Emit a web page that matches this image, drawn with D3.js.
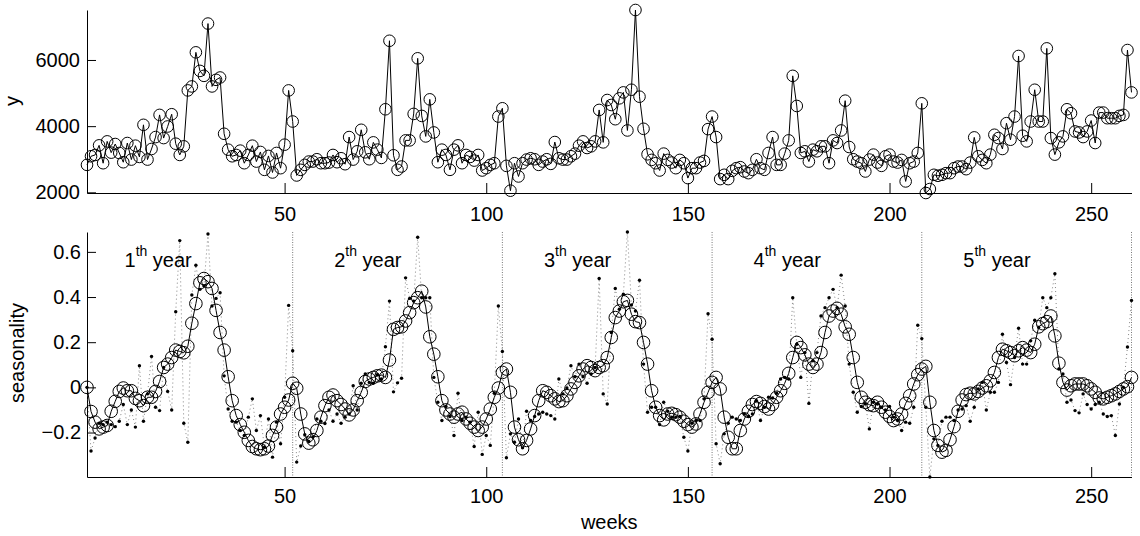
<!DOCTYPE html>
<html>
<head>
<meta charset="utf-8">
<script src="https://cdn.jsdelivr.net/npm/d3@7"></script>
<style>
  body { margin: 0; background: #fff; }
  svg { font-family: "Liberation Sans", Arial, sans-serif; }
  .axis path, .axis line { stroke: #000; }
  .axis text { font-size: 20px; fill: #000; }
</style>
</head>
<body>
<div id="chart"></div>
<script>
// weekly values, 5 years x 52 weeks
const sales = [
  2830, 3090, 3130, 3420, 2880, 3540, 3200, 3460, 3190, 2910,
  3490, 2990, 3410, 3070, 4040, 2990, 3310, 3670, 4340, 3640,
  3990, 4360, 3470, 3130, 3390, 5080, 5200, 6230, 5670, 5520,
  7100, 5200, 5400, 5470, 3770, 3290, 3090, 3130, 3260, 2880,
  3130, 3410, 2930, 3220, 2680, 3100, 2600, 3190, 2730, 3440,
  5080, 4140, 2510, 2680, 2830, 2930, 2930, 3000, 2880, 2880,
  2900, 3130, 2910, 3030, 2850, 3670, 2990, 3240, 3890, 3210,
  3000, 3510, 3290, 3040, 4510, 6580, 3120, 2680, 2780, 3570,
  3570, 4370, 6050, 4310, 3690, 4810, 3810, 2910, 3290, 3130,
  2680, 3290, 3420, 2880, 3130, 3070, 2960, 3130, 2660, 2730,
  2830, 2880, 4290, 4540, 2800, 2050, 2880, 2480, 2880, 2990,
  3030, 3000, 2830, 2930, 3000, 2860, 3520, 3030, 2990, 2990,
  3090, 3170, 3410, 3540, 3340, 3390, 3540, 4490, 3510, 4790,
  4640, 4210, 4840, 5020, 3870, 5100, 7510, 4890, 3920, 3150,
  2980, 2880, 2660, 3170, 2980, 2900, 2730, 2980, 2880, 2430,
  2730, 2730, 2900, 2950, 3910, 4290, 3670, 2400, 2530, 2400,
  2650, 2730, 2760, 2630, 2580, 2680, 3000, 2730, 2680, 3190,
  3670, 2830, 2830, 3170, 3570, 5520, 4610, 3190, 3240, 2930,
  3290, 3240, 3390, 3390, 2880, 3570, 3490, 3870, 4770, 3370,
  3000, 2930, 2880, 2630, 2990, 3140, 2900, 2800, 3090, 3140,
  2930, 2900, 2980, 2330, 2880, 2930, 3190, 4690, 1980, 2100,
  2530, 2500, 2530, 2580, 2580, 2730, 2780, 2780, 2700, 2900,
  3660, 3090, 2980, 2880, 3140, 3740, 3640, 3310, 4090, 3590,
  4290, 6120, 3710, 3540, 4140, 5100, 4140, 4140, 6350, 3640,
  3140, 3510, 3690, 4510, 4390, 3840, 3810, 3670, 3840, 4170,
  3490, 4410, 4410, 4240, 4240, 4240, 4310, 4340, 6300, 5020
];

// smoothed seasonality (circles)
const seasonSmooth = [
  0, -0.107, -0.154, -0.184, -0.176, -0.169, -0.106, -0.062, -0.018, -0.003,
  -0.015, -0.015, -0.049, -0.059, -0.081, -0.044, -0.044, -0.018, 0.026, 0.088,
  0.103, 0.132, 0.165, 0.159, 0.153, 0.182, 0.284, 0.371, 0.463, 0.482,
  0.468, 0.438, 0.341, 0.243, 0.165, 0.047, -0.059, -0.125, -0.165, -0.199,
  -0.235, -0.262, -0.272, -0.276, -0.272, -0.260, -0.213, -0.176, -0.118, -0.088,
  -0.056, 0.018, -0.004, -0.118, -0.206, -0.247, -0.232, -0.191, -0.132, -0.081,
  -0.044, -0.034, -0.059, -0.076, -0.096, -0.122, -0.100, -0.059, -0.022, 0.026,
  0.037, 0.044, 0.051, 0.054, 0.044, 0.121, 0.257, 0.265, 0.268, 0.294,
  0.331, 0.375, 0.397, 0.426, 0.356, 0.224, 0.147, 0.047, -0.059, -0.100,
  -0.118, -0.132, -0.118, -0.110, -0.140, -0.159, -0.176, -0.191, -0.176, -0.140,
  -0.096, -0.044, -0.003, 0.066, 0.081, -0.022, -0.176, -0.232, -0.272, -0.235,
  -0.184, -0.125, -0.059, -0.015, -0.022, -0.037, -0.051, -0.063, -0.059, -0.037,
  -0.007, 0.022, 0.051, 0.081, 0.096, 0.088, 0.074, 0.088, 0.096, 0.132,
  0.221, 0.309, 0.338, 0.379, 0.385, 0.324, 0.291, 0.287, 0.199, 0.103,
  -0.015, -0.088, -0.125, -0.144, -0.118, -0.115, -0.121, -0.132, -0.150, -0.165,
  -0.176, -0.162, -0.118, -0.066, -0.022, 0.022, 0.044, -0.007, -0.132, -0.221,
  -0.272, -0.272, -0.191, -0.140, -0.106, -0.076, -0.063, -0.071, -0.085, -0.096,
  -0.076, -0.044, -0.015, 0.018, 0.062, 0.132, 0.199, 0.176, 0.144, 0.103,
  0.088, 0.103, 0.154, 0.243, 0.316, 0.338, 0.350, 0.324, 0.268, 0.235,
  0.132, 0.022, -0.044, -0.066, -0.077, -0.081, -0.066, -0.088, -0.110, -0.129,
  -0.147, -0.140, -0.118, -0.071, -0.037, 0.015, 0.056, 0.081, 0.093, -0.066,
  -0.191, -0.257, -0.287, -0.279, -0.232, -0.174, -0.106, -0.056, -0.032, -0.026,
  -0.029, -0.018, -0.003, 0.007, 0.029, 0.066, 0.132, 0.169, 0.162, 0.154,
  0.140, 0.162, 0.176, 0.165, 0.154, 0.191, 0.268, 0.282, 0.291, 0.316,
  0.228, 0.107, 0.022, -0.012, 0.007, 0.015, 0.015, 0.015, 0.007, -0.007,
  -0.022, -0.047, -0.051, -0.044, -0.037, -0.029, -0.018, -0.007, 0.003, 0.044
];

// raw seasonality (small dots)
const seasonRaw = [
  0, -0.282, -0.224, -0.159, -0.165, -0.154, -0.165, -0.174, -0.150, -0.076,
  -0.165, -0.100, -0.176, 0.096, -0.150, -0.029, 0.137, -0.088, -0.103, 0.088,
  -0.018, -0.100, 0.335, 0.650, -0.159, -0.243, 0.409, 0.541, 0.434, 0.449,
  0.679, 0.360, 0.394, 0.419, 0.051, -0.096, -0.150, -0.154, -0.191, -0.213,
  -0.132, -0.051, -0.191, -0.125, -0.265, -0.140, -0.309, -0.154, -0.250, -0.044,
  0.363, 0.162, -0.331, -0.260, -0.210, -0.240, -0.220, -0.140, -0.150, -0.160,
  -0.100, -0.150, -0.118, -0.159, -0.132, -0.118, 0.007, -0.100, 0.018, 0.059,
  0.022, 0.018, 0.056, 0.037, 0.180, 0.382, -0.020, 0.020, 0.040, 0.485,
  0.394, 0.382, 0.665, 0.397, 0.397, 0.397, 0.044, -0.066, -0.147, -0.085,
  -0.129, -0.213, -0.026, -0.147, -0.132, -0.154, -0.262, -0.110, -0.297, -0.213,
  -0.257, -0.026, 0.360, 0.159, -0.312, -0.206, -0.243, -0.140, -0.268, -0.106,
  -0.147, -0.129, -0.118, -0.110, -0.118, -0.125, -0.140, 0.037, -0.029, -0.003,
  0.096, 0.047, 0.103, 0.047, 0.018, 0.059, 0.088, 0.482, -0.029, -0.074,
  0.243, 0.438, 0.346, 0.412, 0.688, 0.365, 0.338, 0.474, 0.103, -0.110,
  -0.088, -0.088, -0.165, -0.066, -0.106, -0.132, -0.132, -0.129, -0.221, -0.282,
  -0.159, -0.147, -0.147, -0.051, 0.326, 0.213, -0.250, -0.338, -0.206, -0.159,
  -0.132, -0.140, -0.147, -0.118, -0.129, -0.118, -0.059, -0.147, -0.088, -0.044,
  -0.047, -0.026, 0.037, 0.044, 0.037, 0.397, 0.191, 0.044, 0.154, -0.071,
  0.118, 0.154, 0.316, 0.353, 0.397, 0.434, 0.353, 0.497, 0.360, 0.103,
  -0.022, -0.110, -0.085, -0.074, -0.184, -0.066, -0.074, -0.088, -0.100, -0.085,
  -0.132, -0.147, -0.191, -0.154, -0.159, -0.088, 0.275, 0.216, -0.088, -0.397,
  -0.228, -0.257, -0.150, -0.132, -0.132, -0.147, -0.100, -0.096, -0.081, -0.150,
  -0.088, -0.007, 0.022, -0.100, -0.022, -0.022, 0.022, 0.235, 0.110, 0.012,
  0.132, 0.262, 0.103, 0.103, 0.206, 0.297, 0.265, 0.397, 0.353, 0.397,
  0.503, 0.081, 0.059, -0.066, -0.056, -0.103, -0.113, -0.029, -0.076, -0.096,
  -0.076, -0.066, -0.118, -0.129, -0.125, -0.213, -0.074, 0.000, 0.179, 0.385
];

const weeks = d3.range(1, sales.length + 1);
const yearEnds = [52, 104, 156, 208, 260];
const yearNames = ["1", "2", "3", "4", "5"];
const weekTicks = [50, 100, 150, 200, 250];
const salesTicks = [2000, 4000, 6000];
const seasonTicks = [-0.2, 0, 0.2, 0.4, 0.6];

const W = 1140, H = 536;
const svg = d3.select("#chart").append("svg")
    .attr("width", W)
    .attr("height", H);

svg.append("rect").attr("width", W).attr("height", H).attr("fill", "#fff");

const x = d3.scaleLinear()
    .domain([1, 260])
    .range([87, 1131.5]);

// ---- top panel: weekly data
const yTop = d3.scaleLinear()
    .domain(d3.extent(sales))
    .range([193, 10]);

svg.append("g")
    .attr("class", "axis")
    .attr("transform", "translate(0,193)")
    .call(d3.axisBottom(x).tickValues(weekTicks).tickSizeInner(-10).tickSizeOuter(0).tickPadding(14));

svg.append("g")
    .attr("class", "axis")
    .attr("transform", "translate(87,0)")
    .call(d3.axisLeft(yTop)
        .tickValues(salesTicks)
        .tickFormat(d3.format("d"))
        .tickSizeInner(-9).tickSizeOuter(0).tickPadding(7));

const topLine = d3.line()
    .x((d, i) => x(weeks[i]))
    .y(d => yTop(d));

svg.append("path")
    .datum(sales)
    .attr("d", topLine)
    .attr("fill", "none")
    .attr("stroke", "#000")
    .attr("stroke-width", 1);

svg.append("g")
    .selectAll("circle")
    .data(sales)
    .enter()
    .append("circle")
    .attr("cx", (d, i) => x(weeks[i]))
    .attr("cy", d => yTop(d))
    .attr("r", 5.8)
    .attr("fill", "none")
    .attr("stroke", "#000")
    .attr("stroke-width", 1);

svg.append("text")
    .attr("transform", "translate(19,101) rotate(-90)")
    .style("text-anchor", "middle")
    .style("font-size", "20px")
    .text("y");

// ---- bottom panel: seasonality
const yBot = d3.scaleLinear()
    .domain(d3.extent(seasonRaw))
    .range([477, 232]);

svg.append("g")
    .attr("class", "axis")
    .attr("transform", "translate(0,477)")
    .call(d3.axisBottom(x).tickValues(weekTicks).tickSizeInner(-10).tickSizeOuter(0).tickPadding(12));

svg.append("g")
    .attr("class", "axis")
    .attr("transform", "translate(87,0)")
    .call(d3.axisLeft(yBot)
        .tickValues(seasonTicks)
        .tickFormat(d => d === 0 ? "0" : d3.format(".1f")(d))
        .tickSizeInner(-9).tickSizeOuter(0).tickPadding(6));

// year separators
svg.append("g")
    .selectAll("line")
    .data(yearEnds)
    .enter()
    .append("line")
    .attr("x1", d => x(d))
    .attr("x2", d => x(d))
    .attr("y1", yBot.range()[1])
    .attr("y2", yBot.range()[0])
    .attr("stroke", "#555")
    .attr("stroke-width", 0.8)
    .attr("stroke-dasharray", "1,1.5");

// raw seasonality: dotted line with dots
const rawLine = d3.line()
    .x((d, i) => x(weeks[i]))
    .y(d => yBot(d));

svg.append("path")
    .datum(seasonRaw)
    .attr("d", rawLine)
    .attr("fill", "none")
    .attr("stroke", "#666")
    .attr("stroke-width", 0.8)
    .attr("stroke-dasharray", "1,3");

svg.append("g")
    .selectAll("circle")
    .data(seasonRaw)
    .enter()
    .append("circle")
    .attr("cx", (d, i) => x(weeks[i]))
    .attr("cy", d => yBot(d))
    .attr("r", 1.7)
    .attr("fill", "#000");

// smoothed seasonality: solid line with circles
svg.append("path")
    .datum(seasonSmooth)
    .attr("d", rawLine)
    .attr("fill", "none")
    .attr("stroke", "#000")
    .attr("stroke-width", 1);

svg.append("g")
    .selectAll("circle")
    .data(seasonSmooth)
    .enter()
    .append("circle")
    .attr("cx", (d, i) => x(weeks[i]))
    .attr("cy", d => yBot(d))
    .attr("r", 6.3)
    .attr("fill", "none")
    .attr("stroke", "#000")
    .attr("stroke-width", 1);

// year labels
yearNames.forEach((name, k) => {
    const t = svg.append("text")
        .attr("x", x(52 * k + 10.3))
        .attr("y", 266.5)
        .style("font-size", "20px");
    t.append("tspan").text(name);
    t.append("tspan").attr("dy", -11).style("font-size", "14px").text("th");
    t.append("tspan").attr("dy", 11).text(" year");
});

svg.append("text")
    .attr("transform", "translate(24,353) rotate(-90)")
    .style("text-anchor", "middle")
    .style("font-size", "20px")
    .text("seasonality");

svg.append("text")
    .attr("x", (x.range()[0] + x.range()[1]) / 2)
    .attr("y", 529)
    .style("text-anchor", "middle")
    .style("font-size", "20px")
    .text("weeks");
</script>
</body>
</html>
